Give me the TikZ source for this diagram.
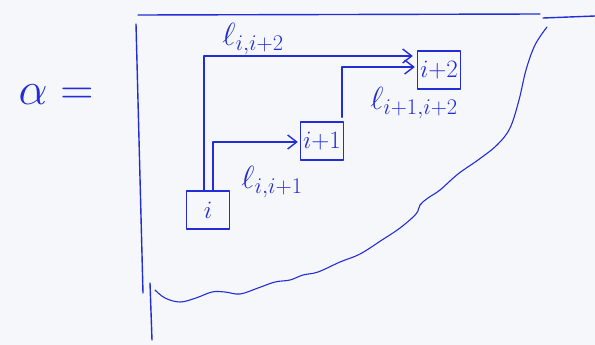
\RequirePackage{fix-cm}
\documentclass[tikz,border=0pt]{standalone}
\usepackage{amsmath}
\usetikzlibrary{arrows.meta}
\definecolor{ink}{RGB}{35,45,215}
\definecolor{paper}{RGB}{246,247,250}
\begin{document}
\begin{tikzpicture}[x=1pt,y=-1pt,
  ink/.style={draw=ink,line width=1.4pt,line cap=round,line join=round},
  box/.style={ink,text=ink,minimum width=43pt,minimum height=38pt,inner sep=1pt,font=\fontsize{25}{27}\selectfont},
  lab/.style={text=ink,font=\fontsize{32}{34}\selectfont,inner sep=0pt},
  arr/.style={ink,-{Straight Barb[length=9pt,width=14pt,line width=1.4pt]}}]
\fill[paper] (0,0) rectangle (595,345);
\useasboundingbox (0,0) rectangle (595,345);
% alpha =
\node[text=ink,font=\fontsize{46}{48}\selectfont,inner sep=0pt] (alpha) at (56,95) {$\alpha =$};
% frame
\coordinate (tl) at (138,15);
\coordinate (tr) at (540,14);
\coordinate (tr2) at (595,16);
\coordinate (lb) at (143,293);
\coordinate (lb2) at (150,283);
\coordinate (lb3) at (152,340);
\draw[ink] (tl) -- (tr);
\draw[ink] (543,18) -- (tr2);
\draw[ink] (136,24) -- (lb);
\draw[ink] (lb2) -- (lb3);
% wavy boundary
\draw[ink,line width=1.1pt] plot[smooth,tension=0.6] coordinates {
 (547,27) (535,45) (526,70) (519,100) (510,128) (497,145) (478,160) (458,174)
 (440,190) (428,198) (420,205) (416,214) (400,228) (382,240) (360,254)
 (340,262) (318,272) (303,275) (290,280) (275,282) (258,288) (240,294)
 (225,292) (212,292) (196,298) (180,302) (165,298) (155,290)};
% nodes
\node[box] (i) at (208,210) {$i$};
\node[box] (i1) at (322,141) {$i{+}1$};
\node[box] (i2) at (439,70) {$i{+}2$};
% connectors
\coordinate (a1) at (204,56);
\coordinate (b1) at (213,142);
\coordinate (c1) at (342,67);
\draw[arr] ([xshift=-4pt]i.north) -- (a1) -- ([xshift=-4pt]i2.west |- a1);
\draw[arr] ([xshift=5pt]i.north) -- (b1) -- ([xshift=-2pt]i1.west |- b1);
\draw[arr] ([xshift=20pt,yshift=4pt]i1.north) -- (c1) -- ([xshift=-2pt]i2.west |- c1);
% labels
\node[lab] (l1) at (253,39) {$\ell_{i,i+2}$};
\node[lab] (l2) at (414,103) {$\ell_{i+1,i+2}$};
\node[lab] (l3) at (272,182) {$\ell_{i,i+1}$};
\end{tikzpicture}
\end{document}
